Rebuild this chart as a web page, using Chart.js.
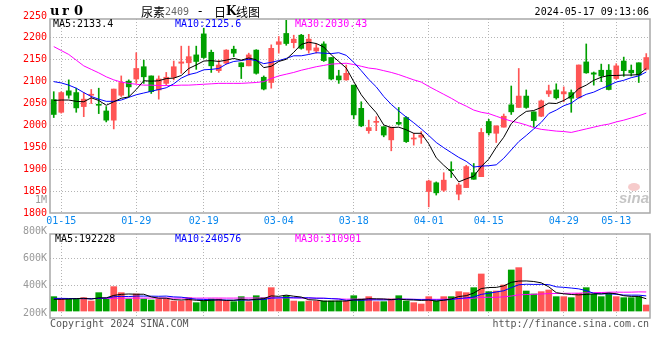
<!DOCTYPE html>
<html lang="zh-CN">
<head>
<meta charset="UTF-8">
<title>尿素2409 - 日K线图</title>
<script src="https://cdn.jsdelivr.net/npm/chart.js"></script>
<style>
    body { margin: 0; background: #fff; }
    #wrap { position: relative; width: 660px; height: 360px; overflow: hidden; }
    #priceChart { position: absolute; left: 0; top: 0; }
    #volChart { position: absolute; left: 0; top: 225px; }
</style>
</head>
<body>
<div id="wrap">
    <canvas id="priceChart" width="660" height="230"></canvas>
    <canvas id="volChart" width="660" height="135"></canvas>
</div>
<script>
// trading days shown on the chart (2024)
const dates = [
    '01-12','01-15','01-16','01-17','01-18','01-19','01-22','01-23','01-24','01-25',
    '01-26','01-29','01-30','01-31','02-01','02-02','02-05','02-06','02-07','02-08',
    '02-19','02-20','02-21','02-22','02-23','02-26','02-27','02-28','02-29','03-01',
    '03-04','03-05','03-06','03-07','03-08','03-11','03-12','03-13','03-14','03-15',
    '03-18','03-19','03-20','03-21','03-22','03-25','03-26','03-27','03-28','03-29',
    '04-01','04-02','04-03','04-08','04-09','04-10','04-11','04-12','04-15','04-16',
    '04-17','04-18','04-19','04-22','04-23','04-24','04-25','04-26','04-29','04-30',
    '05-06','05-07','05-08','05-09','05-10','05-13','05-14','05-15','05-16','05-17'
];
const labelDates = ['01-15','01-29','02-19','03-04','03-18','04-01','04-15','04-29','05-13'];

// daily candles
const opens = [
    2059,2030,2079,2075,2043,2069,2047,2033,2012,2069, 2101,2106,2134,2113,2081,2096,2110,2142,2143,2161,
    2209,2167,2125,2142,2174,2143,2136,2172,2110,2098, 2185,2210,2189,2206,2172,2170,2186,2155,2113,2104,
    2092,2039,1988,2007,1997,1967,2007,2018,1969,1973, 1849,1869,1852,1899,1843,1858,1892,1883,2009,1982,
    1996,2047,2041,2067,2031,2021,2072,2081,2072,2075, 2063,2145,2120,2126,2126,2107,2147,2126,2143,2128
];
const highs = [
    2077,2077,2104,2085,2075,2082,2085,2043,2083,2113, 2104,2166,2149,2113,2113,2121,2147,2181,2181,2181,
    2222,2172,2149,2173,2181,2143,2165,2173,2113,2184, 2203,2240,2206,2208,2208,2187,2191,2155,2126,2138,
    2092,2054,2012,2020,1997,1996,2041,2020,1982,1986, 1875,1871,1892,1917,1868,1909,1913,1993,2014,1999,
    2026,2090,2130,2081,2031,2058,2092,2095,2088,2081, 2138,2186,2122,2140,2139,2141,2156,2138,2143,2164
];
const lows = [
    2018,2028,2062,2030,2020,2050,2027,2008,1992,2066, 2066,2096,2096,2073,2060,2092,2104,2119,2115,2128,
    2153,2121,2121,2140,2157,2107,2136,2117,2081,2085, 2165,2183,2177,2174,2165,2165,2146,2104,2096,2103,
    2015,1997,1982,1988,1974,1942,2001,1961,1955,1959, 1814,1841,1849,1881,1830,1858,1877,1883,1978,1961,
    1996,2025,2041,2039,1996,2020,2066,2060,2054,2030, 2062,2119,2092,2100,2081,2105,2112,2113,2098,2126
];
const closes = [
    2025,2075,2069,2040,2060,2071,2046,2012,2083,2098, 2088,2130,2111,2077,2106,2110,2134,2145,2157,2146,
    2155,2136,2138,2172,2165,2134,2161,2119,2083,2176, 2191,2187,2197,2176,2197,2177,2148,2106,2104,2119,
    2024,1999,1995,2009,1978,1996,2003,1963,1971,1978, 1873,1846,1875,1897,1864,1906,1877,1984,1983,1999,
    2021,2031,2067,2041,2011,2056,2079,2063,2077,2062, 2138,2120,2117,2113,2082,2136,2125,2120,2115,2155
];

// moving average lines as drawn
const ma5 = [
    2057,2058,2058,2055,2054,2063,2057,2046,2054,2062, 2065,2082,2102,2101,2102,2107,2108,2114,2130,2138,
    2147,2148,2146,2149,2153,2149,2154,2150,2132,2135, 2146,2151,2167,2185,2190,2187,2179,2161,2146,2131,
    2100,2070,2048,2029,2001,1995,1996,1990,1982,1982, 1958,1926,1909,1894,1871,1878,1884,1906,1923,1950,
    1973,2004,2020,2032,2034,2041,2051,2050,2057,2067, 2084,2092,2103,2110,2114,2114,2115,2115,2116,2130
];
const ma10 = [
    2100,2097,2092,2085,2075,2066,2060,2055,2055,2058, 2064,2070,2074,2078,2082,2086,2095,2108,2116,2120,
    2127,2128,2130,2140,2146,2148,2151,2148,2141,2144, 2148,2153,2159,2159,2162,2166,2165,2164,2166,2160,
    2144,2125,2105,2088,2066,2048,2033,2019,2006,1992, 1977,1961,1949,1938,1927,1918,1905,1907,1908,1910,
    1925,1944,1963,1977,1992,2007,2027,2035,2045,2051, 2063,2071,2076,2084,2091,2099,2103,2109,2113,2122
];
const ma30 = [
    2180,2171,2162,2149,2136,2128,2120,2111,2104,2099, 2096,2094,2092,2092,2091,2091,2091,2092,2092,2093,
    2094,2095,2096,2096,2096,2096,2097,2098,2100,2107, 2113,2117,2121,2126,2130,2134,2137,2140,2141,2142,
    2139,2135,2131,2129,2125,2121,2116,2110,2104,2099, 2089,2080,2071,2062,2052,2044,2035,2030,2027,2021,
    2015,2010,2006,2001,1995,1991,1989,1987,1986,1984, 1988,1992,1996,2000,2003,2008,2012,2017,2022,2028
];

// volume bars and their averages
const volumes = [
    227000,190000,190000,190000,211000,158000,290000,190000,385000,290000,
    190000,269000,190000,174000,190000,190000,158000,158000,211000,132000,
    163000,190000,190000,158000,148000,227000,148000,242000,211000,369000,
    190000,242000,158000,148000,158000,158000,158000,158000,158000,158000,
    242000,190000,227000,148000,148000,190000,242000,158000,132000,111000,
    227000,158000,227000,227000,306000,290000,369000,585000,306000,316000,
    411000,648000,685000,316000,269000,306000,332000,227000,227000,211000,
    279000,369000,264000,227000,279000,227000,211000,211000,227000,95000
];
const volMa5 = [
    185000,185000,190000,195000,202000,188000,208000,208000,247000,263000,
    269000,265000,265000,223000,203000,203000,180000,174000,181000,170000,
    164000,171000,177000,167000,170000,183000,174000,185000,195000,239000,
    232000,251000,234000,221000,179000,173000,156000,156000,158000,158000,
    175000,181000,195000,193000,191000,181000,191000,177000,174000,167000,
    174000,157000,171000,190000,229000,242000,284000,355000,371000,373000,
    397000,453000,473000,475000,466000,445000,382000,290000,272000,261000,
    255000,263000,270000,270000,284000,273000,242000,231000,231000,194000
];
const volMa10 = [
    200000,200000,198000,196000,195000,195000,200000,205000,225000,232000,
    228000,236000,236000,235000,233000,236000,223000,219000,202000,186000,
    184000,176000,176000,174000,170000,174000,173000,181000,181000,205000,
    207000,213000,209000,208000,209000,202000,203000,195000,190000,169000,
    174000,169000,176000,176000,175000,178000,186000,186000,184000,179000,
    177000,174000,174000,182000,198000,208000,221000,263000,281000,301000,
    320000,369000,414000,423000,420000,421000,417000,382000,374000,363000,
    350000,322000,280000,271000,272000,264000,252000,251000,251000,239000
];
const volMa30 = [
    196000,197000,197000,198000,198000,198000,199000,200000,202000,203000,
    203000,204000,204000,205000,205000,205000,204000,204000,205000,204000,
    204000,205000,205000,204000,204000,205000,205000,206000,206000,208000,
    206000,208000,207000,206000,204000,204000,200000,198000,191000,187000,
    188000,186000,187000,186000,185000,185000,187000,187000,185000,184000,
    186000,185000,186000,189000,194000,196000,203000,215000,218000,216000,
    224000,237000,255000,260000,264000,269000,275000,277000,279000,281000,
    282000,288000,290000,292000,297000,298000,297000,298000,302000,301000
];

// axis tick labels
const priceTicks = [1800, 1850, 1900, 1950, 2000, 2050, 2100, 2150, 2200, 2250];
const volTicks = [200000, 400000, 600000, 800000];

const priceLegend = ['MA5:2133.4', 'MA10:2125.6', 'MA30:2030.43'];
const volLegend = ['MA5:192228', 'MA10:240576', 'MA30:310901'];

const RED = '#ff5555';
const GREEN = '#00a000';
const GRID = '#b4b4b4';
const NONE = 'rgba(0,0,0,0)';
const MA_COLORS = ['#000000', '#0000ff', '#ff00ff'];
const MONO = '"DejaVu Sans Mono", monospace';

Chart.defaults.font.family = MONO;
Chart.defaults.font.size = 10;
Chart.defaults.animation = false;

const candleColors = closes.map((c, i) => c >= opens[i] ? RED : GREEN);

function maLine(label, data, color, axis) {
    return {
        type: 'line', label: label, data: data, yAxisID: axis,
        borderColor: color, borderWidth: 1, pointRadius: 0, tension: 0, order: 0
    };
}

// x axis shared by both panels: grid only at the labelled dates
function dateAxis(showLabels, height) {
    return {
        type: 'category',
        offset: true,
        grid: {
            offset: false,
            drawTicks: false,
            color: (c) => labelDates.includes(dates[c.index]) ? GRID : NONE
        },
        border: { display: false, dash: [1, 2] },
        ticks: {
            display: showLabels,
            autoSkip: false,
            maxRotation: 0,
            minRotation: 0,
            padding: 2,
            color: '#0a88ee',
            callback: (v, i) => labelDates.includes(dates[i]) ? dates[i] : ''
        },
        afterFit: (axis) => { axis.height = height; }
    };
}

// grey box round each plot area
const frame = {
    id: 'frame',
    afterDraw(chart) {
        const { ctx, chartArea: a } = chart;
        ctx.save();
        ctx.strokeStyle = '#a8a8a8';
        ctx.lineWidth = 1.5;
        ctx.strokeRect(a.left, a.top, a.right - a.left, a.bottom - a.top);
        ctx.restore();
    }
};

function drawLegend(ctx, items, y, xs) {
    ctx.font = '10px ' + MONO;
    ctx.textAlign = 'left';
    ctx.textBaseline = 'middle';
    items.forEach((t, i) => {
        ctx.fillStyle = MA_COLORS[i];
        ctx.fillText(t, xs[i], y);
    });
}

const priceText = {
    id: 'priceText',
    beforeDatasetsDraw(chart) {
        // faint sina mark in the lower right corner
        const ctx = chart.ctx;
        ctx.save();
        ctx.fillStyle = 'rgba(235,140,140,0.45)';
        ctx.beginPath();
        ctx.ellipse(634, 187, 6, 4, 0, 0, Math.PI * 2);
        ctx.fill();
        ctx.fillStyle = 'rgba(150,150,150,0.55)';
        ctx.font = 'italic bold 15px "Liberation Sans"';
        ctx.textBaseline = 'middle';
        ctx.fillText('sina', 619, 199);
        ctx.restore();
    },
    afterDraw(chart) {
        const ctx = chart.ctx;
        ctx.save();
        ctx.textBaseline = 'middle';

        ctx.fillStyle = '#000';
        ctx.font = 'bold 13px "DejaVu Serif"';
        ['u', 'r', '0'].forEach((ch, i) => ctx.fillText(ch, 50 + i * 12, 12));

        // title pieces placed as in the original header
        ctx.font = '12px "Noto Sans CJK SC"';
        ctx.fillText('尿素', 141, 12);
        ctx.fillStyle = '#666';
        ctx.font = '10px ' + MONO;
        ctx.fillText('2409', 165, 12);
        ctx.fillStyle = '#000';
        ctx.font = '12px "DejaVu Sans"';
        ctx.fillText('-', 198, 12);
        ctx.font = '12px "Noto Sans CJK SC"';
        ctx.fillText('日', 214, 12);
        ctx.font = 'bold 12px "DejaVu Serif"';
        ctx.fillText('K', 226, 12);
        ctx.font = '12px "Noto Sans CJK SC"';
        ctx.fillText('线图', 236, 12);

        ctx.font = '10px ' + MONO;
        ctx.textAlign = 'right';
        ctx.fillText('2024-05-17 09:13:06', 649, 12);
        ctx.fillStyle = '#999';
        ctx.fillText('1M', 47, 200);

        drawLegend(ctx, priceLegend, 24, [53, 175, 295]);
        ctx.restore();
    }
};

const volText = {
    id: 'volText',
    afterDraw(chart) {
        const ctx = chart.ctx;
        ctx.save();
        drawLegend(ctx, volLegend, 14, [55, 175, 295]);
        ctx.fillStyle = '#555';
        ctx.font = '10px ' + MONO;
        ctx.textAlign = 'left';
        ctx.fillText('Copyright 2024 SINA.COM', 50, 99);
        ctx.textAlign = 'right';
        ctx.fillText('http://finance.sina.com.cn', 649, 99);
        ctx.restore();
    }
};

// price panel: candles as floating bars (body + wick) with MA lines on top
new Chart(document.getElementById('priceChart'), {
    type: 'bar',
    data: {
        labels: dates,
        datasets: [
            maLine('MA5', ma5, MA_COLORS[0], 'y'),
            maLine('MA10', ma10, MA_COLORS[1], 'y'),
            maLine('MA30', ma30, MA_COLORS[2], 'y'),
            {
                label: 'body', data: opens.map((o, i) => [o, closes[i]]),
                backgroundColor: candleColors, barThickness: 5, minBarLength: 1,
                grouped: false, order: 1
            },
            {
                label: 'wick', data: lows.map((l, i) => [l, highs[i]]),
                backgroundColor: candleColors, barThickness: 1,
                grouped: false, order: 2
            }
        ]
    },
    options: {
        responsive: false,
        events: [],
        layout: { padding: { top: 19, right: 10, left: 0, bottom: 0 } },
        plugins: { legend: { display: false }, tooltip: { enabled: false } },
        scales: {
            x: dateAxis(true, 17),
            y: {
                min: 1800,
                max: 2243,
                grid: {
                    drawTicks: false,
                    color: (c) => (c.tick.value > 1800 && c.tick.value <= 2200) ? GRID : NONE
                },
                border: { display: false, dash: [1, 2] },
                ticks: { autoSkip: false, padding: 3, color: '#ff0000', callback: (v) => String(v) },
                afterBuildTicks: (axis) => { axis.ticks = priceTicks.map(v => ({ value: v })); },
                afterFit: (axis) => { axis.width = 50; }
            }
        }
    },
    plugins: [frame, priceText]
});

// volume panel: bars on a hidden axis, tick labels on a second one
new Chart(document.getElementById('volChart'), {
    type: 'bar',
    data: {
        labels: dates,
        datasets: [
            maLine('MA5', volMa5, MA_COLORS[0], 'yv'),
            maLine('MA10', volMa10, MA_COLORS[1], 'yv'),
            maLine('MA30', volMa30, MA_COLORS[2], 'yv'),
            {
                label: 'volume', data: volumes, yAxisID: 'yv',
                backgroundColor: candleColors, barThickness: 6, order: 1
            }
        ]
    },
    options: {
        responsive: false,
        events: [],
        layout: { padding: { top: 9, right: 10, left: 0, bottom: 0 } },
        plugins: { legend: { display: false }, tooltip: { enabled: false } },
        scales: {
            x: dateAxis(false, 42),
            yl: {
                position: 'left',
                min: 163000,
                max: 778000,
                grid: {
                    drawTicks: false,
                    color: (c) => (c.tick.value > 200000 && c.tick.value < 800000) ? GRID : NONE
                },
                border: { display: false, dash: [1, 2] },
                ticks: { autoSkip: false, padding: 3, color: '#999', callback: (v) => (v / 1000) + 'K' },
                afterBuildTicks: (axis) => { axis.ticks = volTicks.map(v => ({ value: v })); },
                afterFit: (axis) => { axis.width = 50; }
            },
            yv: {
                position: 'left',
                display: false,
                min: -110000,
                max: 1216000
            }
        }
    },
    plugins: [frame, volText]
});
</script>
</body>
</html>
